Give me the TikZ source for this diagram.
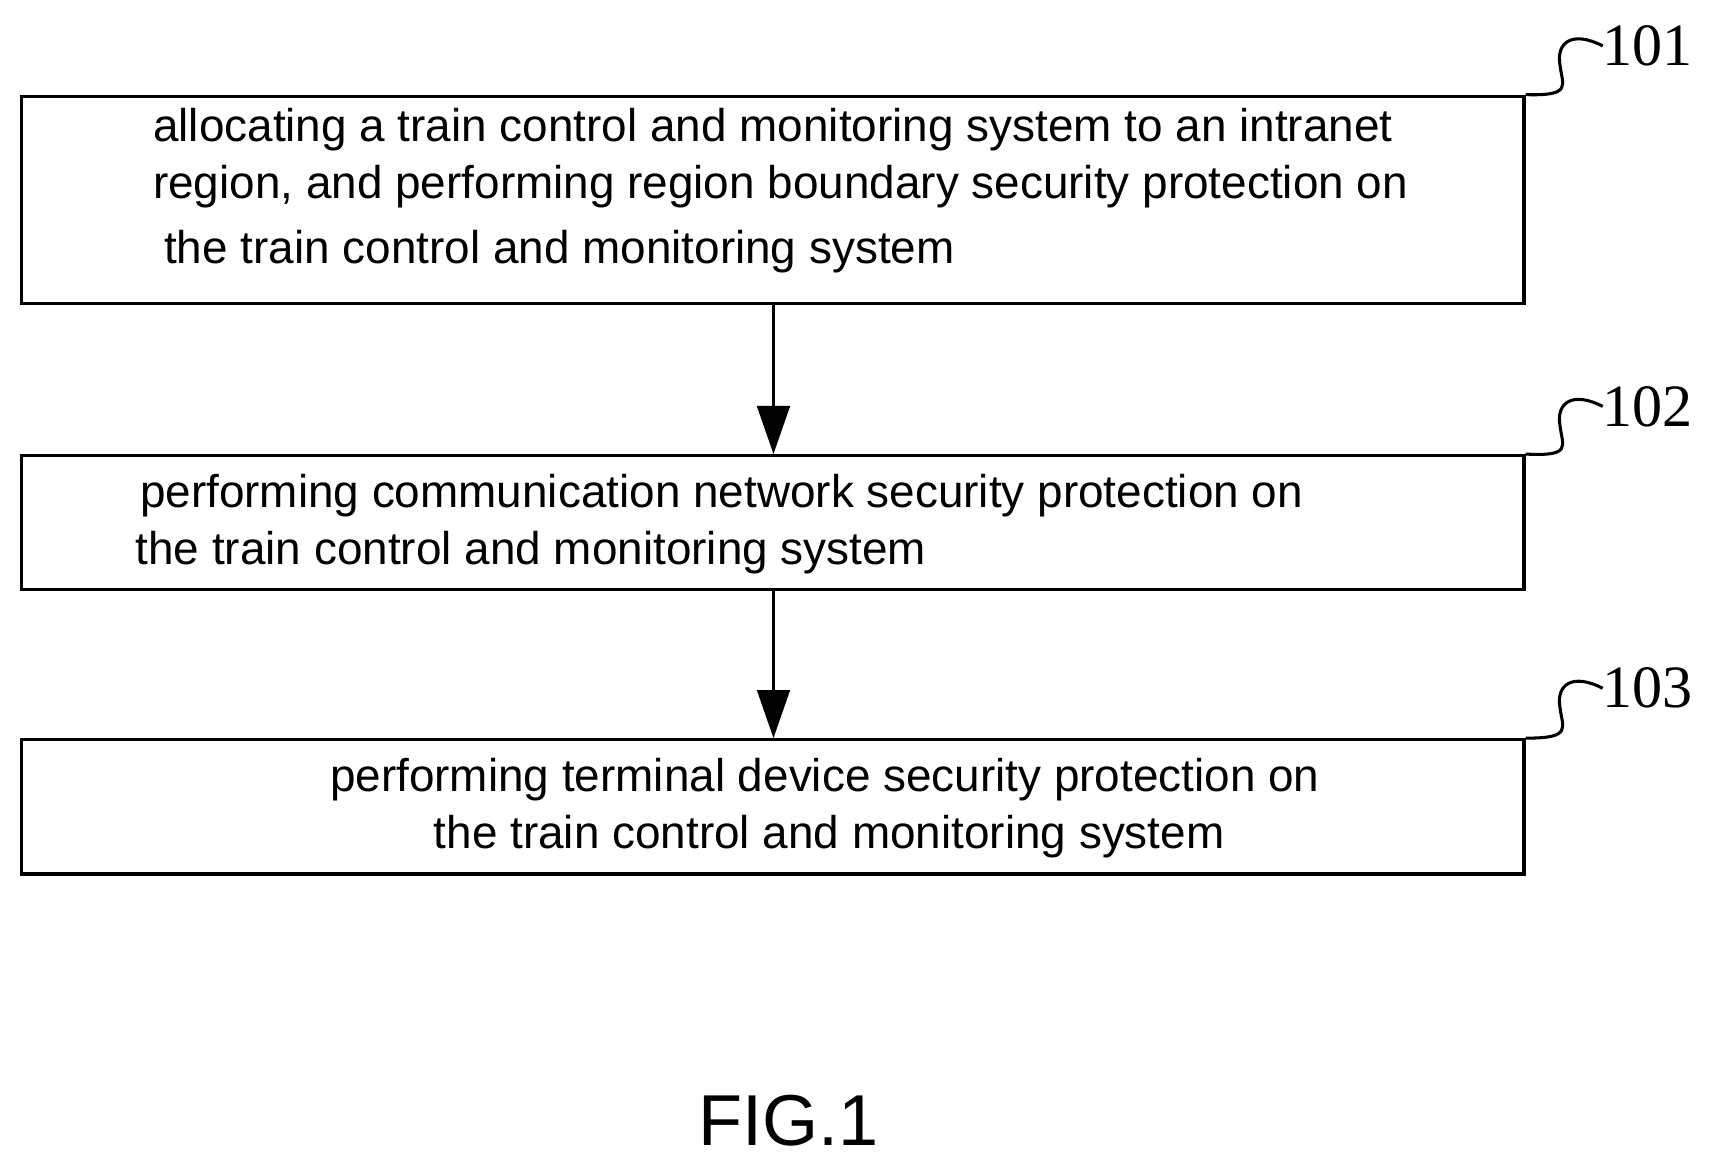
\documentclass[tikz,border=0pt]{standalone}
\usetikzlibrary{arrows.meta}
\usepackage{fontspec}
\setmainfont{Liberation Sans}
\newfontfamily\tms{Liberation Serif}
\begin{document}
\begin{tikzpicture}[x=1pt,y=-1pt,
 box/.style={draw,line width=2.8pt,minimum width=1375pt,inner sep=0},
 txt/.style={font=\fontsize{42}{52}\selectfont,inner sep=0,align=left},
 num/.style={font=\tms\fontsize{55}{55}\selectfont,inner sep=0,anchor=west},
 sq/.style={line width=2.8pt},
 arr/.style={line width=2.2pt,-{Triangle[length=44pt,width=30pt]}}]
\useasboundingbox (0,0) rectangle (1568,1069);
\node[box,minimum height=190pt] (b1) at (707.5,183) {};
\node[box,minimum height=123pt] (b2) at (707.5,478.5) {};
\node[box,minimum height=123pt] (b3) at (707.5,738.5) {};
\node[txt,anchor=north west] (t1) at (140,99) {allocating a train control and monitoring system to an intranet\\region, and performing region boundary security protection on\\[8pt]\hspace*{10pt}the train control and monitoring system};
\node[txt,anchor=north west] (t2) at (124,434) {\hspace*{4pt}performing communication network security protection on\\the train control and monitoring system};
\node[txt,align=center] (t3) at (755,740) {performing terminal device security protection on\\\hspace*{8pt}the train control and monitoring system};
\draw[arr] (b1.south -| 708,0) -- (b2.north -| 708,0);
\draw[arr] (b2.south -| 708,0) -- (b3.north -| 708,0);
\foreach \b/\n/\y in {b1/101/42,b2/102/372,b3/103/630}{
 \node[num] (n\n) at (1467,\y) {\n};
 \draw[sq] (\b.north east) .. controls (1440,88+\y-42) and (1430,78+\y-42) .. (1428,60+\y-42) .. controls (1424,38+\y-42) and (1440,28+\y-42) .. (n\n.west);
}
\node[font=\fontsize{66}{66}\selectfont,inner sep=0] (fig) at (722,1026) {FIG.1};
\end{tikzpicture}
\end{document}
